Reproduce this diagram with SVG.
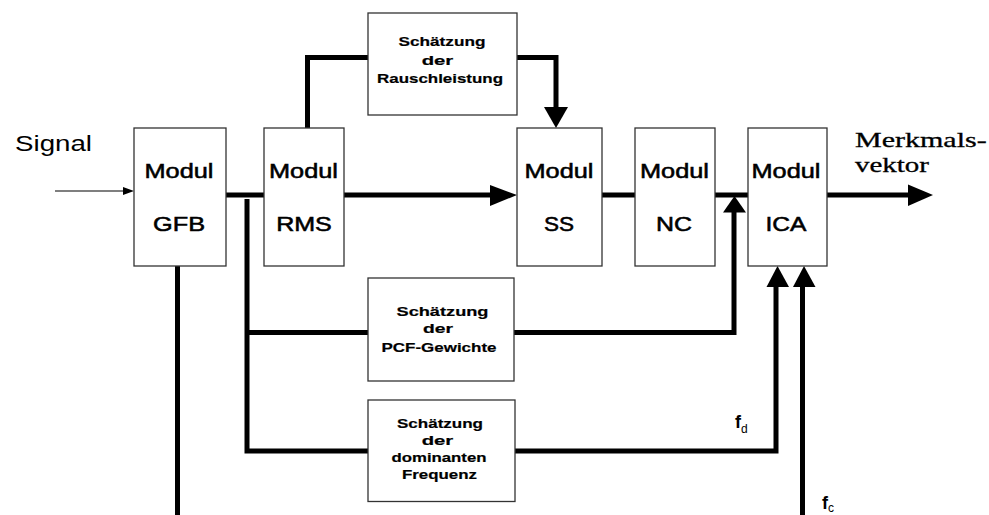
<svg xmlns="http://www.w3.org/2000/svg" width="989" height="515" viewBox="0 0 989 515">
<style>
.box{fill:#fff;stroke:#333;stroke-width:1.3}
.big{font-family:"Liberation Sans",Arial,sans-serif;font-size:21px;fill:#000;stroke:#000;stroke-width:0.55;text-anchor:middle}
.sig{font-family:"Liberation Sans",Arial,sans-serif;font-size:22px;fill:#000}
.sm{font-family:"Liberation Sans",Arial,sans-serif;font-size:13px;font-weight:bold;fill:#000;stroke:#000;stroke-width:0.2;text-anchor:middle}
.serif{font-family:"Liberation Serif","Times New Roman",serif;font-size:21px;fill:#000;stroke:#000;stroke-width:0.3}
.lbl{font-family:"Liberation Sans",Arial,sans-serif;font-size:18px;font-weight:bold;fill:#000}
.sub{font-size:12px;font-weight:normal}
.wire{fill:none;stroke:#000;stroke-width:5;stroke-linejoin:miter}
.thin{fill:none;stroke:#000;stroke-width:1.2}
.head{fill:#000}
</style>
<rect width="989" height="515" fill="#fff"/>
<g id="connectors">
  <line class="thin" x1="55" y1="191" x2="124" y2="191"/>
  <polygon class="head" points="134,191 123,187 123,195"/>
  <polyline class="wire" points="226,195 264,195"/>
  <polyline class="wire" points="247,199 247,451 368,451"/>
  <polyline class="wire" points="247,332.5 368,332.5"/>
  <polyline class="wire" points="307.5,128 307.5,57.5 368,57.5"/>
  <polyline class="wire" points="517,57.5 556,57.5 556,108"/>
  <polygon class="head" points="556,128 544,107 568,107"/>
  <polyline class="wire" points="344,195 492,195"/>
  <polygon class="head" points="517,195 490,185 490,206"/>
  <polyline class="wire" points="602,195 635,195"/>
  <polyline class="wire" points="715,195 748,195"/>
  <polyline class="wire" points="514,332.5 734,332.5 734,211"/>
  <polygon class="head" points="734.5,196 723,212.5 746,212.5"/>
  <polyline class="wire" points="827,195 909,195"/>
  <polygon class="head" points="933,195 908,184.5 908,206"/>
  <polyline class="wire" points="515,451 776,451 776,285"/>
  <polygon class="head" points="777.5,266 766.5,287 789,287"/>
  <polyline class="wire" points="802.5,515 802.5,285"/>
  <polygon class="head" points="804,266 793,287 815.5,287"/>
  <polyline class="wire" points="177.5,266 177.5,515"/>
</g>
<text class="sig" x="15" y="150.7" textLength="77" lengthAdjust="spacingAndGlyphs">Signal</text>
<g id="gfb">
  <rect class="box" x="134" y="128" width="92" height="138"/>
  <text class="big" x="179" y="178.3" textLength="69" lengthAdjust="spacingAndGlyphs">Modul</text>
  <text class="big" x="179" y="231" textLength="52" lengthAdjust="spacingAndGlyphs">GFB</text>
</g>
<g id="rms">
  <rect class="box" x="264" y="128" width="80" height="138"/>
  <text class="big" x="303.5" y="178.3" textLength="69" lengthAdjust="spacingAndGlyphs">Modul</text>
  <text class="big" x="304" y="231" textLength="55.7" lengthAdjust="spacingAndGlyphs">RMS</text>
</g>
<g id="ss">
  <rect class="box" x="517" y="128" width="85" height="138"/>
  <text class="big" x="559" y="178.3" textLength="69" lengthAdjust="spacingAndGlyphs">Modul</text>
  <text class="big" x="559" y="231" textLength="30" lengthAdjust="spacingAndGlyphs">SS</text>
</g>
<g id="nc">
  <rect class="box" x="635" y="128" width="80" height="138"/>
  <text class="big" x="674.5" y="178.3" textLength="69" lengthAdjust="spacingAndGlyphs">Modul</text>
  <text class="big" x="674" y="231" textLength="36" lengthAdjust="spacingAndGlyphs">NC</text>
</g>
<g id="ica">
  <rect class="box" x="748" y="128" width="79" height="138"/>
  <text class="big" x="786" y="178.3" textLength="69" lengthAdjust="spacingAndGlyphs">Modul</text>
  <text class="big" x="786" y="231" textLength="41" lengthAdjust="spacingAndGlyphs">ICA</text>
</g>
<g id="rausch">
  <rect class="box" x="368" y="13" width="149" height="102"/>
  <text class="sm" x="442" y="46" textLength="87" lengthAdjust="spacingAndGlyphs">Schätzung</text>
  <text class="sm" x="437.5" y="65" textLength="31.6" lengthAdjust="spacingAndGlyphs">der</text>
  <text class="sm" x="440" y="82.7" textLength="126" lengthAdjust="spacingAndGlyphs">Rauschleistung</text>
</g>
<g id="pcf">
  <rect class="box" x="368" y="278" width="146" height="103"/>
  <text class="sm" x="442.5" y="315.7" textLength="92" lengthAdjust="spacingAndGlyphs">Schätzung</text>
  <text class="sm" x="438" y="332.5" textLength="30" lengthAdjust="spacingAndGlyphs">der</text>
  <text class="sm" x="439" y="351.7" textLength="115" lengthAdjust="spacingAndGlyphs">PCF-Gewichte</text>
</g>
<g id="dominant">
  <rect class="box" x="368" y="400" width="147" height="101.5"/>
  <text class="sm" x="440" y="428" textLength="86" lengthAdjust="spacingAndGlyphs">Schätzung</text>
  <text class="sm" x="437.5" y="444.5" textLength="31.6" lengthAdjust="spacingAndGlyphs">der</text>
  <text class="sm" x="439" y="461.7" textLength="95" lengthAdjust="spacingAndGlyphs">dominanten</text>
  <text class="sm" x="439.5" y="478.5" textLength="75" lengthAdjust="spacingAndGlyphs">Frequenz</text>
</g>
<text class="serif" x="855" y="146.7" textLength="131.7" lengthAdjust="spacingAndGlyphs">Merkmals-</text>
<text class="serif" x="855" y="171.7" textLength="74" lengthAdjust="spacingAndGlyphs">vektor</text>
<text class="lbl" x="735" y="428">f<tspan class="sub" dy="5">d</tspan></text>
<text class="lbl" x="822" y="509">f<tspan class="sub" dy="3">c</tspan></text>
</svg>
